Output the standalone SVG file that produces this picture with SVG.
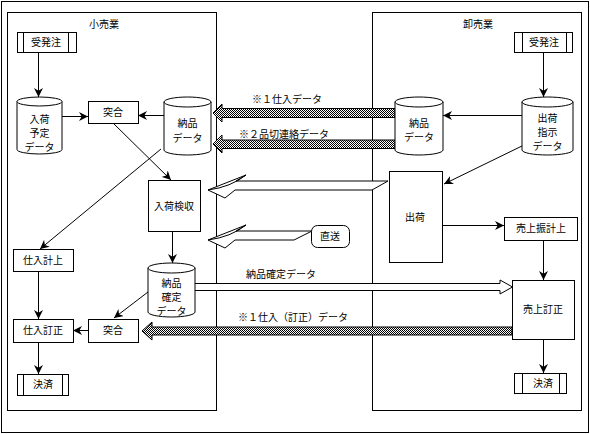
<svg xmlns="http://www.w3.org/2000/svg" width="590" height="434" viewBox="0 0 590 434">
<style>
text{font-family:"Noto Sans CJK JP","Noto Sans CJK SC",sans-serif;font-size:10px;fill:#000;text-anchor:middle}
.box{fill:#fff;stroke:#000;stroke-width:1;shape-rendering:crispEdges}
.lane{fill:none;stroke:#000;stroke-width:1;shape-rendering:crispEdges}
.cyl{fill:#fff;stroke:#000;stroke-width:1}
.ln{fill:none;stroke:#000;stroke-width:1}
.arr{fill:none;stroke:#000;stroke-width:1;marker-end:url(#ah)}
.hatch{fill:url(#dots);stroke:#000;stroke-width:1}
.rib{fill:#fff;stroke:#000;stroke-width:1;stroke-linejoin:miter}
</style>
<defs>
<marker id="ah" viewBox="0 0 10 10" refX="10" refY="5" markerWidth="9" markerHeight="9" markerUnits="userSpaceOnUse" orient="auto">
<path d="M0,0 L10,5 L0,10 L3,5 Z" fill="#000"/>
</marker>
<pattern id="dots" width="2" height="2" patternUnits="userSpaceOnUse">
<rect width="2" height="2" fill="#fff"/>
<rect width="1" height="1" fill="#000"/>
<rect x="1" y="1" width="1" height="1" fill="#000"/>
</pattern>
</defs>
<rect width="590" height="434" fill="#fff"/>
<rect class="lane" x="1.5" y="1.5" width="587" height="431"/>
<g id="lane-retail">
<rect class="lane" x="7.5" y="12.5" width="209" height="398"/>
<text x="104" y="28">小売業</text>
</g>
<g id="lane-wholesale">
<rect class="lane" x="372.5" y="12.5" width="209" height="398"/>
<text x="478" y="28">卸売業</text>
</g>

<g id="connectors">
<line class="arr" x1="38.5" y1="52" x2="38.5" y2="97"/>
<line class="arr" x1="62" y1="116.5" x2="88" y2="116.5"/>
<line class="arr" x1="164" y1="115.5" x2="138" y2="115.5"/>
<line class="arr" x1="113" y1="123" x2="171" y2="180"/>
<line class="arr" x1="161" y1="149" x2="40" y2="249"/>
<line class="arr" x1="543.5" y1="52" x2="543.5" y2="97"/>
<line class="arr" x1="522" y1="115.5" x2="443" y2="115.5"/>
<line class="arr" x1="524" y1="145" x2="444" y2="184"/>
<line class="arr" x1="172.5" y1="231" x2="172.5" y2="263"/>
<line class="arr" x1="38.5" y1="271" x2="38.5" y2="319"/>
<line class="arr" x1="148" y1="292" x2="114" y2="318"/>
<line class="arr" x1="88" y1="330.5" x2="73" y2="330.5"/>
<line class="arr" x1="38.5" y1="342" x2="38.5" y2="374"/>
<line class="arr" x1="442" y1="225.5" x2="504" y2="225.5"/>
<line class="arr" x1="543.5" y1="240" x2="543.5" y2="280"/>
<line class="arr" x1="543.5" y1="339" x2="543.5" y2="373"/>
<polygon class="hatch" points="213,113 222,104 222,108.5 395,108.5 395,117.5 222,117.5 222,122"/>
<polygon class="hatch" points="213,144 222,135 222,140 395,140 395,148.5 222,148.5 222,153"/>
<polygon class="hatch" points="142,331 152,322 152,327 512,327 512,335 152,335 152,340"/>
<path class="rib" d="M195,283.5 H500 V280 L512.5,287 L500,294 V290.5 H195"/>
<path class="rib" d="M388,181 L372,190 L235,190 L225,198 L208,190 L246,175 L236,181 Z"/>
<path class="ln" d="M208,190 Q231,187 246,175"/>
<path class="rib" d="M312,231 L294,240 L235,240 L225,248 L208,240 L246,225 L236,231 Z"/>
<path class="ln" d="M208,240 Q231,237 246,225"/>
<text x="287" y="103">※１仕入データ</text>
<text x="284" y="138">※２品切連絡データ</text>
<text x="281" y="278">納品確定データ</text>
<text x="293" y="321">※１仕入（訂正）データ</text>
</g>

<g id="juhacchu-left">
<rect class="box" x="17.5" y="32.5" width="59" height="20"/>
<line class="ln" x1="23.5" y1="32.5" x2="23.5" y2="52.5" style="shape-rendering:crispEdges"/>
<line class="ln" x1="68.5" y1="32.5" x2="68.5" y2="52.5" style="shape-rendering:crispEdges"/>
<text x="46" y="46">受発注</text>
</g>
<g id="nyuka-yotei">
<path class="cyl" d="M17,101.5 V149.5 A22.5,4.5 0 0 0 62,149.5 V101.5 Z"/>
<ellipse class="cyl" cx="39.5" cy="101.5" rx="22.5" ry="4.5"/>
<text x="39.5" y="123">入荷</text>
<text x="39.5" y="137">予定</text>
<text x="39.5" y="151">データ</text>
</g>
<g id="totsugo-upper">
<rect class="box" x="88.5" y="101.5" width="50" height="22"/>
<text x="113" y="116">突合</text>
</g>
<g id="nohin-left">
<path class="cyl" d="M164,102 V150 A23.5,5 0 0 0 211,150 V102 Z"/>
<ellipse class="cyl" cx="187.5" cy="102" rx="23.5" ry="5"/>
<text x="187.5" y="127">納品</text>
<text x="187.5" y="142">データ</text>
</g>
<g id="nyuka-kenshu">
<rect class="box" x="148.5" y="180.5" width="52" height="51"/>
<text x="174" y="210">入荷検収</text>
</g>
<g id="shiire-keijo">
<rect class="box" x="13.5" y="249.5" width="60" height="22"/>
<text x="43" y="264">仕入計上</text>
</g>
<g id="nohin-kakutei">
<path class="cyl" d="M148,268 V312 A23.5,5 0 0 0 195,312 V268 Z"/>
<ellipse class="cyl" cx="171.5" cy="268" rx="23.5" ry="5"/>
<text x="171.5" y="287">納品</text>
<text x="171.5" y="301">確定</text>
<text x="171.5" y="315">データ</text>
</g>
<g id="shiire-teisei">
<rect class="box" x="13.5" y="319.5" width="60" height="23"/>
<text x="43" y="334">仕入訂正</text>
</g>
<g id="totsugo-lower">
<rect class="box" x="88.5" y="319.5" width="50" height="23"/>
<text x="113" y="334">突合</text>
</g>
<g id="kessai-left">
<rect class="box" x="17.5" y="374.5" width="51" height="21"/>
<line class="ln" x1="23.5" y1="374.5" x2="23.5" y2="395.5" style="shape-rendering:crispEdges"/>
<line class="ln" x1="62.5" y1="374.5" x2="62.5" y2="395.5" style="shape-rendering:crispEdges"/>
<text x="43" y="388">決済</text>
</g>

<g id="juhacchu-right">
<rect class="box" x="514.5" y="32.5" width="58" height="20"/>
<line class="ln" x1="522.5" y1="32.5" x2="522.5" y2="52.5" style="shape-rendering:crispEdges"/>
<line class="ln" x1="566.5" y1="32.5" x2="566.5" y2="52.5" style="shape-rendering:crispEdges"/>
<text x="544" y="46">受発注</text>
</g>
<g id="nohin-right">
<path class="cyl" d="M395,102 V150 A24,5 0 0 0 443,150 V102 Z"/>
<ellipse class="cyl" cx="419" cy="102" rx="24" ry="5"/>
<text x="419" y="127">納品</text>
<text x="419" y="141">データ</text>
</g>
<g id="shukka-shiji">
<path class="cyl" d="M522,102 V150 A25.5,5 0 0 0 573,150 V102 Z"/>
<ellipse class="cyl" cx="547.5" cy="102" rx="25.5" ry="5"/>
<text x="547.5" y="122">出荷</text>
<text x="547.5" y="136">指示</text>
<text x="547.5" y="150">データ</text>
</g>
<g id="shukka">
<rect class="box" x="389.5" y="171.5" width="53" height="91"/>
<text x="415" y="221">出荷</text>
</g>
<g id="chokuso">
<rect class="box" x="311.5" y="225.5" width="38" height="22" rx="6" style="shape-rendering:auto"/>
<text x="330" y="240">直送</text>
</g>
<g id="uriage-furikeijo">
<rect class="box" x="504.5" y="217.5" width="73" height="23"/>
<text x="541" y="232">売上振計上</text>
</g>
<g id="uriage-teisei">
<rect class="box" x="512.5" y="280.5" width="62" height="59"/>
<text x="543" y="313">売上訂正</text>
</g>
<g id="kessai-right">
<rect class="box" x="514.5" y="373.5" width="52" height="20"/>
<line class="ln" x1="522.5" y1="373.5" x2="522.5" y2="393.5" style="shape-rendering:crispEdges"/>
<line class="ln" x1="559.5" y1="373.5" x2="559.5" y2="393.5" style="shape-rendering:crispEdges"/>
<text x="543" y="387">決済</text>
</g>
</svg>
